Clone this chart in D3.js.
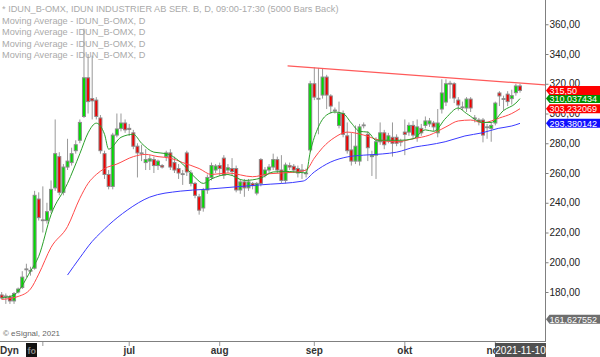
<!DOCTYPE html>
<html>
<head>
<meta charset="utf-8">
<script src="https://cdn.jsdelivr.net/npm/d3@7"></script>
<style>
  body { margin: 0; background: #fff; }
  svg { display: block; font-family: "Liberation Sans", Arial, sans-serif; }
</style>
</head>
<body>
<script>
// daily bars (one entry per trading day, 19 May - 10 Nov 2021)
const opens = [178,177,176.6,174,180,183,195,194,196,242.5,228,228,235,250,271,247,264,267,275,282,
  298,324,310,309,297,273,259,251,285.5,290,293.6,290,287,278,273.5,267,268,269,265,265,
  271,273.5,267,263,259.5,273.5,253,253,244,236.5,248.6,257,262,265,270,262,263,263,248.6,254,
  250,253,246.5,269,258.6,262,264,269,262,255,265,264.5,263,262,260,275.5,320,309.7,312.4,324.5,
  311.8,302.3,292,300,285,275.5,268,268,292,286,271,272,281,287,282,284,284,281,287.5,287.5,
  292,284,290,292,293,293.6,287,303,307.7,320,320,309,304.4,303.7,309.7,297,295.6,295.6,291,290,
  293.6,313.8,310,313,310,314,318.5];
const highs = [180,179,178,180,183,194,199,197,248,247,251,240,255,296,274,266,283,277,282,296,
  357,340,339,311,299,275,262,287,300,300,296,293,289,280,279,276,272,271,269,266,
  275,276,271,266,262,275,262,254,246,250,259,267,266,267,272,266,270,265,256,256,
  256,254,254,270,264,266,273,271,272,267,267,266,265,266,263,322,331,330.6,330,326,
  313,304,308,302,294,287,292,293,294,288,275,284,294,289,287,294,286,283,296,294,
  295,296,293,298,297,295,303,323,323,322,321,311,308,311,311,299,297,297,293,294,
  308,315,312,315,316,320,320];
const lows = [175,172,172,172,179,182,190,191,195,228,220,226,233,248,245,245,262,265,273,280,
  297,300,296,296,273,256,249,249,284,288,287,285,276,257,268,262,262,260,262,263,
  268,262,260,256,252,258,251,243,232,234,246,255,260,258,256,260,258,247,246,244,
  248,249,245,251,257,260,262,260,253,253,262,260,257,256,257,274,309,286,310,303,
  300,300,290,284,273,265,266,265,290,268,258,256,279,276,280,271,278,278,272,285,
  283,281,285,290,291,288,284,300,305,310,307,302,302,301,301,294,292,280.6,283,281,
  292,305,302,305,306,312,314];
const closes = [176,177.3,174,179,182,190,195.5,194.5,245,230,228.5,234,249,273,247,264,268,273,279,294,
  324,308,308.5,298,275,259,251,285.5,289.6,293.6,289,289.3,278,273.5,273,269,269.5,265,268,264,
  273.5,264,262,260,259,260.7,260,245,235,248.6,257,265,264.7,263,258.6,263.5,261,248.6,254,250,
  254,251.5,253,253,262,264,269,262,255,265.4,264,262,260,261.3,259.5,320,311,310.2,324.5,312.4,
  305,302,300,286,275,268,278,291,292.3,277,272,281,287,279,285,280,280,281.3,286,292,
  285.5,291,287,295,295,291,293.6,313.8,320,320.3,310.4,305.7,304.1,309.7,303.7,296.5,294.5,285.5,290.5,292,
  307,311.8,309.5,308,312,318.5,315.5];

// moving averages, sampled along each line as [bar, value]
const maFast = [[0,176],[3,178],[7,194],[9,204],[12,232],[16,253],[19,273],[21,287],[23,293.5],[25,286],
  [26,276],[29,284],[32,286],[34,280],[37,274],[40,273],[44,266],[47,257],[49,253],[51,256],[55,259],
  [59,255],[63,256.6],[66,260.7],[70,261],[74,260],[75,274],[77,291],[79,299],[81,301],[83,300],
  [85,293.6],[87,288],[89,287.5],[91,282],[94,282],[97,282],[100,283],[103,289],[105,288],[108,297],
  [111,303.7],[113,300],[117,294],[119,294],[122,302],[125,307],[126,310.04]];
const maMid = [[0,175],[4,177],[7,182],[9,192],[12,210],[16,224],[19,243],[21,253],[23,259],[25,263],
  [28,266],[32,271],[35,272.5],[38,271],[41,270],[44,267],[48,263],[51,259],[55,260],[61,257.5],
  [65,259.5],[71,260.5],[74,262],[76,270],[78,277],[81,284],[84,287.5],[88,285.5],[92,282],[96,281],
  [100,283],[104,285.5],[108,291],[111,295],[114,295.6],[117,293.8],[121,297],[124,300],[126,303.23]];
const maSlow = [[16,191.4],[19,203],[22,214],[24,219.7],[26,225],[30.5,235],[36,243.8],[43.4,247.8],
  [49.4,249],[62.8,252],[73.3,254.6],[76,260.7],[80,267.4],[84,270.8],[88,272],[92.5,272.8],[96,274],
  [100.5,277.5],[103.6,278.8],[107.8,281],[112.6,284.9],[116.8,287],[120.7,290],[124,291.6],[126,293.38]];

// hand-drawn resistance line
const trendBars = [69.5, 132.3];
const trendPrices = [332, 319.2];

// right-axis value boxes
const boxValues = [161.627552, 293.380142, 303.232069, 310.037434, 315.50];
const boxTexts = ["161,627552", "293,380142", "303,232069", "310,037434", "315,50"];

const priceTicks = [180, 200, 220, 240, 260, 280, 300, 320, 340, 360];
const monthNames = ["", "jul", "aug", "sep", "okt", "nov"];
const monthBars = [10, 31, 53, 76, 98, 120];
const lastDate = "2021-11-10";

const legendLines = [
  "* IDUN_B-OMX, IDUN INDUSTRIER AB SER. B, D, 09:00-17:30 (5000 Bars Back)",
  "Moving Average - IDUN_B-OMX, D",
  "Moving Average - IDUN_B-OMX, D",
  "Moving Average - IDUN_B-OMX, D",
  "Moving Average - IDUN_B-OMX, D"
];

const width = 600, height = 357;
const plotRight = 545, plotBottom = 341;

const svg = d3.select("body").append("svg")
  .attr("width", width)
  .attr("height", height);

svg.append("defs").append("clipPath").attr("id", "plot")
  .append("rect").attr("x", 0).attr("y", 0).attr("width", plotRight).attr("height", plotBottom);

const x = d3.scaleLinear().domain([0, closes.length - 1]).range([1.7, 520]);
const y = d3.scaleLinear().domain([180, 360]).range([292, 24.25]);

// legend text sits behind the bars
svg.append("g").selectAll("text")
  .data(legendLines)
  .enter().append("text")
  .attr("x", 2)
  .attr("y", (d, i) => i === 0 ? 11.5 : 23.5 + (i - 1) * 11.6)
  .style("font-size", "9.2px")
  .style("fill", "#aaa")
  .text(d => d);

const plot = svg.append("g").attr("clip-path", "url(#plot)");

// candles
const bars = plot.append("g").selectAll("g")
  .data(closes.map((c, i) => i))
  .enter().append("g");

bars.append("line")
  .attr("x1", i => x(i)).attr("x2", i => x(i))
  .attr("y1", i => y(highs[i])).attr("y2", i => y(lows[i]))
  .style("stroke", "#999")
  .style("stroke-width", 1);

bars.append("rect")
  .attr("x", i => x(i) - 1.5)
  .attr("width", 3)
  .attr("y", i => y(Math.max(opens[i], closes[i])))
  .attr("height", i => Math.max(0.8, Math.abs(y(opens[i]) - y(closes[i]))))
  .style("fill", i => closes[i] > opens[i] + 0.5 ? "#00dc00" : (closes[i] < opens[i] - 0.5 ? "#f00000" : "#999"))
  .style("stroke", "#8a8a8a")
  .style("stroke-width", 1);

// moving averages
const maLine = d3.line()
  .x(d => x(d[0]))
  .y(d => y(d[1]))
  .curve(d3.curveMonotoneX);

plot.append("path").attr("d", maLine(maSlow))
  .style("fill", "none").style("stroke", "#3a3aff").style("stroke-width", 1);
plot.append("path").attr("d", maLine(maMid))
  .style("fill", "none").style("stroke", "#ff4a4a").style("stroke-width", 1);
plot.append("path").attr("d", maLine(maFast))
  .style("fill", "none").style("stroke", "#2aa02a").style("stroke-width", 1);

// trend line
plot.append("path")
  .attr("d", d3.line()(trendBars.map((b, i) => [x(b), y(trendPrices[i])])))
  .style("fill", "none").style("stroke", "#ff5a5a").style("stroke-width", 1.3);

// frame
svg.append("line")
  .attr("x1", 0).attr("x2", plotRight)
  .attr("y1", plotBottom + 0.5).attr("y2", plotBottom + 0.5)
  .style("stroke", "#808080");

svg.append("text")
  .attr("x", 3).attr("y", 336)
  .style("font-size", "8px").style("fill", "#666")
  .text("\u00a9 eSignal, 2021");

// price axis
const yAxis = d3.axisRight(y)
  .tickValues(priceTicks)
  .tickSize(3)
  .tickPadding(1)
  .tickFormat(d => d3.format(".2f")(d).replace(".", ","));

const yg = svg.append("g")
  .attr("transform", "translate(" + (plotRight + 0.5) + ",0)")
  .call(yAxis);
yg.select(".domain").attr("d", "M0,0V" + (plotBottom + 1)).style("stroke", "#808080");
yg.selectAll(".tick line").style("stroke", "#808080");
yg.selectAll("text").style("font-size", "10px").style("fill", "#222")
  .style("font-family", "'Liberation Sans', Arial, sans-serif");

// value boxes on the price axis
const boxColors = ["#6e6e6e", "#1010ff", "#ff0000", "#009000", "#ff0000"];
const boxes = svg.append("g").selectAll("g")
  .data(boxValues)
  .enter().append("g")
  .attr("transform", d => "translate(" + plotRight + "," + y(d) + ")");

boxes.append("path")
  .attr("d", "M1,0L4.5,-4.5H55V4.5H4.5Z")
  .style("fill", (d, i) => boxColors[i]);

boxes.append("text")
  .attr("x", 4.5)
  .attr("y", 3.3)
  .style("font-size", "9px")
  .style("fill", "#fff")
  .text((d, i) => boxTexts[i]);

// date axis
const dateAxis = svg.append("g");
dateAxis.selectAll("line")
  .data(monthBars)
  .enter().append("line")
  .attr("x1", d => x(d)).attr("x2", d => x(d))
  .attr("y1", plotBottom + 1).attr("y2", plotBottom + 5)
  .style("stroke", "#999");

dateAxis.selectAll("text")
  .data(monthBars)
  .enter().append("text")
  .attr("x", d => x(d))
  .attr("y", 354)
  .attr("text-anchor", "middle")
  .style("font-size", "10px")
  .style("font-weight", "bold")
  .style("fill", "#333")
  .text((d, i) => monthNames[i]);

svg.append("text")
  .attr("x", 0).attr("y", 354)
  .style("font-size", "10px").style("font-weight", "bold").style("fill", "#333")
  .text("Dyn");

svg.append("rect")
  .attr("x", 26).attr("y", 343).attr("width", 11).attr("height", 14)
  .style("fill", "#111");
svg.append("text")
  .attr("x", 27.5).attr("y", 354)
  .style("font-size", "9px").style("font-weight", "bold").style("fill", "#888")
  .text("fo");

svg.append("rect")
  .attr("x", 495).attr("y", 343).attr("width", 51).attr("height", 14)
  .style("fill", "#505050");
svg.append("text")
  .attr("x", 520.5).attr("y", 354)
  .attr("text-anchor", "middle")
  .style("font-size", "10px").style("fill", "#fff")
  .text(lastDate);
</script>
</body>
</html>
